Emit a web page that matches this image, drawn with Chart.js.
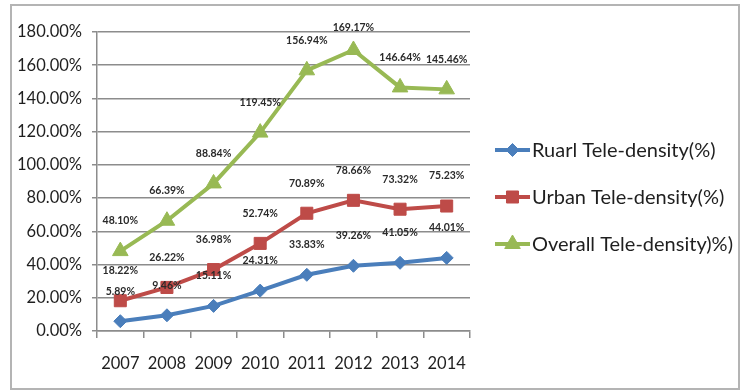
<!DOCTYPE html>
<html>
<head>
<meta charset="utf-8">
<script src="https://cdn.jsdelivr.net/npm/chart.js@4.4.1/dist/chart.umd.min.js"></script>
<style>
  html, body { margin: 0; padding: 0; background: #fff; }
  #wrap { position: relative; width: 742px; height: 392px; }
  #frame { position: absolute; left: 10px; top: 4px; width: 730px; height: 386px;
           box-sizing: border-box; border: 2px solid #b4b4b4; pointer-events: none; }
  canvas { position: absolute; left: 0; top: 0; }
</style>
</head>
<body>
<div id="wrap">
  <canvas id="c" width="742" height="392"></canvas>
  <div id="frame"></div>
</div>
<script>
const categories = ['2007', '2008', '2009', '2010', '2011', '2012', '2013', '2014'];
const ruralValues = [5.89, 9.46, 15.11, 24.31, 33.83, 39.26, 41.05, 44.01];
const urbanValues = [18.22, 26.22, 36.98, 52.74, 70.89, 78.66, 73.32, 75.23];
const overallValues = [48.10, 66.39, 88.84, 119.45, 156.94, 169.17, 146.64, 145.46];
const seriesNames = ['Ruarl Tele-density(%)', 'Urban Tele-density(%)', 'Overall Tele-density)%)'];
const yTicks = [0, 20, 40, 60, 80, 100, 120, 140, 160, 180];

const FONT = "Lato, 'Open Sans', sans-serif";
const colors = ['#4a7ebb', '#be4b48', '#98b954'];
const styles = ['rectRot', 'rect', 'triangle'];
const radii = [6.5, 8.5, 9];

const dataLabels = {
  id: 'dataLabels',
  afterDatasetsDraw(chart) {
    const ctx = chart.ctx;
    ctx.save();
    ctx.font = "bold 10.5px " + FONT;
    ctx.fillStyle = '#2a2a2a';
    ctx.textAlign = 'center';
    ctx.textBaseline = 'middle';
    chart.data.datasets.forEach((ds, i) => {
      const meta = chart.getDatasetMeta(i);
      meta.data.forEach((pt, j) => {
        const y = Math.max(pt.y - 30, chart.chartArea.top - 4);
        ctx.fillText(ds.data[j].toFixed(2) + '%', pt.x, y);
      });
    });
    ctx.restore();
  }
};

const customLegend = {
  id: 'customLegend',
  afterDraw(chart) {
    const ctx = chart.ctx;
    const rowY = [150, 197, 244];
    const x0 = 495, x1 = 530;
    ctx.save();
    chart.data.datasets.forEach((ds, i) => {
      const y = rowY[i];
      ctx.strokeStyle = ds.borderColor;
      ctx.lineWidth = 4;
      ctx.beginPath();
      ctx.moveTo(x0, y);
      ctx.lineTo(x1, y);
      ctx.stroke();
      ctx.fillStyle = ds.borderColor;
      ctx.strokeStyle = ds.borderColor;
      ctx.lineWidth = 1;
      Chart.helpers.drawPoint(ctx, {
        pointStyle: ds.pointStyle, radius: ds.pointRadius, rotation: 0, borderWidth: 1
      }, (x0 + x1) / 2, y);
      ctx.font = "20px " + FONT;
      ctx.fillStyle = '#1f1f1f';
      ctx.textAlign = 'left';
      ctx.textBaseline = 'middle';
      ctx.fillText(ds.label, x1 + 2, y + 1);
    });
    ctx.restore();
  }
};

const seriesData = [ruralValues, urbanValues, overallValues];

new Chart(document.getElementById('c'), {
  type: 'line',
  data: {
    labels: categories,
    datasets: seriesData.map((vals, i) => ({
      label: seriesNames[i],
      data: vals,
      borderColor: colors[i],
      backgroundColor: colors[i],
      pointBackgroundColor: colors[i],
      pointBorderColor: colors[i],
      pointBorderWidth: 1,
      borderWidth: 4,
      pointStyle: styles[i],
      pointRadius: radii[i],
      pointHoverRadius: radii[i],
      tension: 0,
      fill: false
    }))
  },
  options: {
    responsive: false,
    animation: false,
    devicePixelRatio: 1,
    layout: { padding: { top: 32, right: 272, left: 0, bottom: 0 } },
    plugins: {
      legend: { display: false },
      tooltip: { enabled: false }
    },
    scales: {
      x: {
        offset: true,
        grid: { drawOnChartArea: false, drawTicks: true, tickLength: 7, color: '#8c8c8c', lineWidth: 1.5, offset: true },
        border: { display: true, color: '#8c8c8c', width: 1.5 },
        ticks: { font: { family: FONT, size: 16.5 }, color: '#1f1f1f', padding: 16, maxRotation: 0, autoSkip: false },
        afterFit(scale) { scale.height = 61; }
      },
      y: {
        min: 0,
        max: 180,
        afterBuildTicks(scale) { scale.ticks = yTicks.map(v => ({ value: v })); },
        grid: { color: '#8c8c8c', lineWidth: 1.5, tickLength: 5, drawTicks: true },
        border: { display: true, color: '#8c8c8c', width: 1.5 },
        ticks: {
          font: { family: FONT, size: 16.5 },
          color: '#1f1f1f',
          padding: 10,
          callback: v => v.toFixed(2) + '%'
        },
        afterFit(scale) { scale.width = 97; }
      }
    }
  },
  plugins: [dataLabels, customLegend]
});
</script>
</body>
</html>
